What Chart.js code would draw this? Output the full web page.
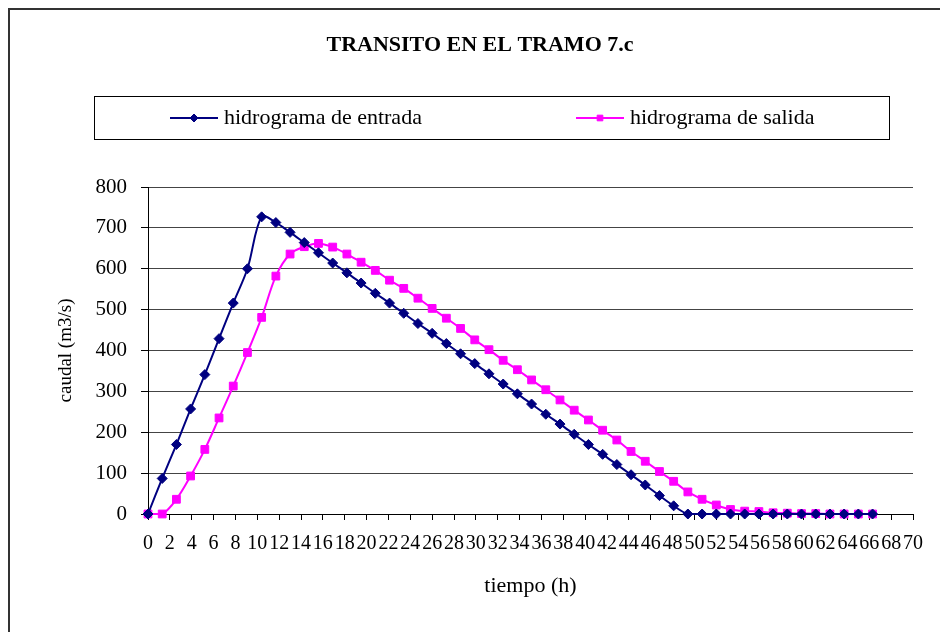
<!DOCTYPE html>
<html>
<head>
<meta charset="utf-8">
<title>Transito en el tramo 7.c</title>
<script src="https://cdn.jsdelivr.net/npm/chart.js@4.4.1/dist/chart.umd.min.js"></script>
<style>
  body { margin: 0; background: #fff; }
  #wrap { position: relative; width: 940px; height: 632px; }
</style>
</head>
<body>
<div id="wrap"><canvas id="hidroChart" width="940" height="632"></canvas></div>
<script>
// tiempo (h), paso de 1.3 h
const tiempo = [0, 1.3, 2.6, 3.9, 5.2, 6.5, 7.8, 9.1, 10.4, 11.7, 13, 14.3, 15.6, 16.9,
  18.2, 19.5, 20.8, 22.1, 23.4, 24.7, 26, 27.3, 28.6, 29.9, 31.2, 32.5, 33.8, 35.1,
  36.4, 37.7, 39, 40.3, 41.6, 42.9, 44.2, 45.5, 46.8, 48.1, 49.4, 50.7, 52, 53.3,
  54.6, 55.9, 57.2, 58.5, 59.8, 61.1, 62.4, 63.7, 65, 66.3];

// caudales (m3/s)
const entrada = [0, 87, 170, 257, 341, 429, 516, 600, 727, 713, 689, 664, 639, 614,
  590, 565, 540, 516, 491, 466, 442, 417, 392, 368, 343, 318, 294, 269, 244, 220,
  195, 170, 146, 121, 96, 71, 45, 20, 0, 0, 0, 0, 0, 0, 0, 0, 0, 0, 0, 0, 0, 0];
const salida = [0, 0, 36, 93, 158, 235, 313, 395, 481, 582, 636, 654, 662, 653,
  636, 616, 596, 572, 552, 528, 503, 479, 454, 426, 402, 376, 353, 328, 304, 279,
  254, 230, 205, 181, 153, 129, 104, 80, 54, 36, 22, 11, 7, 6, 3, 2, 1, 1, 0, 0, 0, 0];

const seriesNames = ["hidrograma de entrada", "hidrograma de salida"];
const chartTitle = "TRANSITO EN EL TRAMO 7.c";
const xTitle = "tiempo (h)";
const yTitle = "caudal (m3/s)";

const serif = '"Liberation Serif", "DejaVu Serif", serif';

function toPoints(ys) {
  return tiempo.map((t, i) => ({ x: t, y: ys[i] }));
}

// Title, legend box and outer frame (Excel style)
const decorPlugin = {
  id: 'decor',
  afterDraw(chart) {
    const ctx = chart.ctx;
    ctx.save();

    // outer frame (only left and top visible)
    ctx.strokeStyle = '#333';
    ctx.lineWidth = 2;
    ctx.beginPath();
    ctx.moveTo(9, 632);
    ctx.lineTo(9, 9);
    ctx.lineTo(940, 9);
    ctx.stroke();

    // title
    ctx.fillStyle = '#000';
    ctx.font = 'bold 22px ' + serif;
    ctx.textAlign = 'center';
    ctx.textBaseline = 'middle';
    ctx.fillText(chartTitle, 480, 45);

    // legend box
    ctx.strokeStyle = '#000';
    ctx.lineWidth = 1;
    ctx.strokeRect(94.5, 96.5, 795, 43);

    const itemX = [170, 576];
    const ly = 118;
    ctx.font = '22px ' + serif;
    ctx.textAlign = 'left';
    chart.data.datasets.forEach((ds, i) => {
      const x0 = itemX[i];
      ctx.strokeStyle = ds.borderColor;
      ctx.fillStyle = ds.borderColor;
      ctx.lineWidth = 2;
      ctx.beginPath();
      ctx.moveTo(x0, ly);
      ctx.lineTo(x0 + 48, ly);
      ctx.stroke();
      ctx.lineWidth = 1;
      Chart.helpers.drawPoint(ctx, { pointStyle: ds.pointStyle, radius: 4, borderWidth: 1 }, x0 + 24, ly);
      ctx.fillStyle = '#000';
      ctx.fillText(ds.label, x0 + 54, ly);
    });

    ctx.restore();
  }
};

const hidroChart = new Chart(document.getElementById("hidroChart"), {
  type: 'scatter',
  data: {
    datasets: [{
      label: seriesNames[0],
      data: toPoints(entrada),
      showLine: true,
      clip: 10,
      borderColor: '#000080',
      backgroundColor: '#000080',
      borderWidth: 2,
      pointStyle: 'rectRot',
      pointRadius: 5,
      pointBorderWidth: 1,
      tension: 0.33
    }, {
      label: seriesNames[1],
      data: toPoints(salida),
      showLine: true,
      clip: 10,
      borderColor: '#ff00ff',
      backgroundColor: '#ff00ff',
      borderWidth: 2,
      pointStyle: 'rect',
      pointRadius: 5.5,
      pointBorderWidth: 1,
      tension: 0.33
    }]
  },
  options: {
    responsive: false,
    animation: false,
    layout: { padding: { top: 187, right: 27, left: 0, bottom: 0 } },
    plugins: {
      legend: { display: false },
      title: { display: false },
      tooltip: { enabled: false }
    },
    scales: {
      x: {
        type: 'linear',
        min: 0,
        max: 70,
        afterFit: (scale) => { scale.height = 118; },
        ticks: {
          stepSize: 2,
          autoSkip: false,
          maxRotation: 0,
          minRotation: 0,
          padding: 12,
          color: '#000',
          font: { family: serif, size: 20 }
        },
        grid: {
          drawOnChartArea: false,
          drawTicks: true,
          tickLength: 6,
          tickColor: '#000'
        },
        border: { color: '#000', width: 1 },
        title: {
          display: true,
          text: xTitle,
          color: '#000',
          font: { family: serif, size: 22 },
          padding: { top: 0, bottom: 33 }
        }
      },
      y: {
        min: 0,
        max: 800,
        afterFit: (scale) => { scale.width = 148; },
        ticks: {
          stepSize: 100,
          padding: 14,
          color: '#000',
          font: { family: serif, size: 21 }
        },
        grid: {
          color: '#444',
          lineWidth: 1,
          drawTicks: true,
          tickLength: 7,
          tickColor: '#000'
        },
        border: { color: '#000', width: 1 },
        title: {
          display: true,
          text: yTitle,
          color: '#000',
          font: { family: serif, size: 19 },
          padding: { top: 55, bottom: 0 }
        }
      }
    }
  },
  plugins: [decorPlugin]
});
</script>
</body>
</html>
